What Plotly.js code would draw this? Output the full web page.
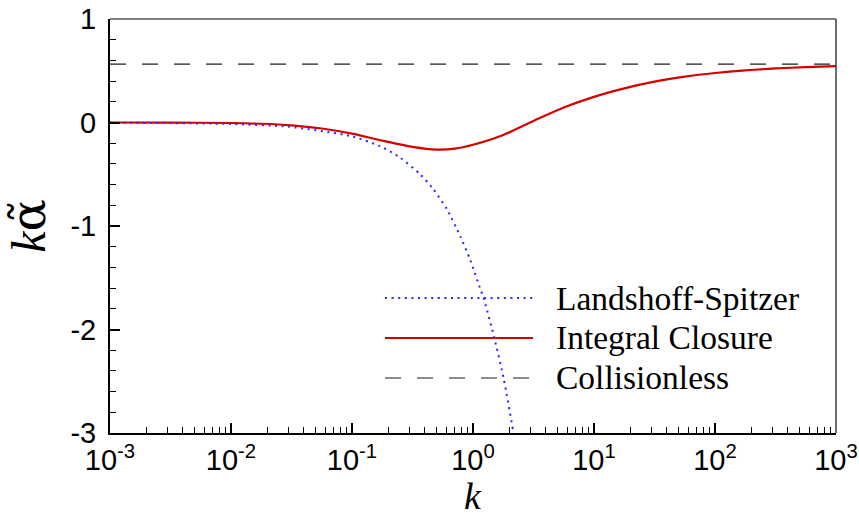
<!DOCTYPE html>
<html>
<head>
<meta charset="utf-8">
<script src="https://cdn.plot.ly/plotly-3.0.1.min.js"></script>
<style>
  html, body { margin: 0; padding: 0; background: #fff; }
  #chart { width: 859px; height: 519px; }
</style>
</head>
<body>
<div id="chart"></div>
<script>
// Wavenumber samples and k*alpha~ for each closure model
const kLS = [0.001, 0.01, 0.03, 0.097, 0.171, 0.251, 0.367, 0.472, 0.61, 0.786, 0.95, 1.15, 1.22, 1.5, 1.79, 2.14, 2.16];
const alphaLS = [-0.0014, -0.014, -0.041, -0.13, -0.229, -0.341, -0.502, -0.647, -0.84, -1.10, -1.33, -1.61, -1.69, -2.08, -2.47, -2.97, -3.0];

const kIC = [0.001, 0.00316, 0.01, 0.0178, 0.0316, 0.0562, 0.1, 0.178, 0.316, 0.5, 0.708, 1, 1.78, 3.16, 5.62, 10, 17.8, 31.6, 56.2, 100, 178, 316, 562, 1000];
const alphaIC = [0, -0.001, -0.005, -0.012, -0.027, -0.058, -0.108, -0.175, -0.235, -0.262, -0.253, -0.215, -0.12, 0.015, 0.145, 0.248, 0.33, 0.395, 0.443, 0.478, 0.504, 0.522, 0.535, 0.545];

const kCL = [0.001, 1000];
const alphaCL = [0.564, 0.564];

// Tick labels
const xTickVals = [0.001, 0.01, 0.1, 1, 10, 100, 1000];
const xTickText = ['10<sup>-3</sup>', '10<sup>-2</sup>', '10<sup>-1</sup>', '10<sup>0</sup>', '10<sup>1</sup>', '10<sup>2</sup>', '10<sup>3</sup>'];
const yTickVals = [-3, -2, -1, 0, 1];
const yTickText = ['-3', '-2', '-1', '0', '1'];

// Legend entries
const legendNames = ['Landshoff-Spitzer', 'Integral Closure', 'Collisionless'];

const blue = 'rgb(40,40,255)';
const red = 'rgb(212,0,0)';
const dark = 'rgb(30,30,30)';

const traces = [
  { x: kCL, y: alphaCL, mode: 'lines', name: legendNames[2],
    line: { color: dark, width: 1.2, dash: '16px,16px' }, showlegend: false },
  { x: kIC, y: alphaIC, mode: 'lines', name: legendNames[1], line: { color: red, width: 2.2, shape: 'spline', smoothing: 0.8 }, showlegend: false },
  { x: kLS, y: alphaLS, mode: 'lines', name: legendNames[0], line: { color: blue, width: 2, dash: '2px,4.6px', shape: 'spline', smoothing: 0.6 }, showlegend: false }
];

// Legend drawn as line samples + labels in paper coordinates
const legendY = [0.326, 0.2295, 0.1329];
const legendStyles = [
  { color: blue, width: 2, dash: '2px,4.6px' },
  { color: red, width: 2.2, dash: 'solid' },
  { color: dark, width: 1.2, dash: '16px,16px' }
];
const shapes = [
  // top and right frame lines
  { type: 'line', xref: 'paper', yref: 'paper', x0: 0, x1: 1, y0: 1, y1: 1, line: { color: 'black', width: 1.2 } },
  { type: 'line', xref: 'paper', yref: 'paper', x0: 1, x1: 1, y0: 0, y1: 1, line: { color: 'rgb(60,60,60)', width: 1.5 } }
];
const annotations = [];
legendNames.forEach((name, i) => {
  shapes.push({ type: 'line', xref: 'paper', yref: 'paper', x0: 0.3788, x1: 0.5826, y0: legendY[i], y1: legendY[i], line: legendStyles[i] });
  annotations.push({ xref: 'paper', yref: 'paper', x: 0.6115, y: legendY[i], xanchor: 'left', yanchor: 'middle',
    text: name, showarrow: false, font: { family: 'Liberation Serif, Times New Roman, serif', size: 33.5, color: 'black' } });
});

// x-axis title, set just below the tick labels
annotations.push({ xref: 'paper', yref: 'paper', x: 0.5, y: -0.099, xanchor: 'center', yanchor: 'top',
  text: '<i>k</i>', showarrow: false, borderpad: 0,
  font: { family: 'Liberation Serif, Times New Roman, serif', size: 38, color: 'black' } });

const layout = {
  width: 859, height: 519,
  margin: { l: 110, r: 23, t: 19, b: 86 },
  paper_bgcolor: 'white', plot_bgcolor: 'white',
  showlegend: false,
  xaxis: {
    type: 'log', range: [-3, 3],
    tickmode: 'array', tickvals: xTickVals, ticktext: xTickText,
    ticks: 'inside', ticklen: 10, tickwidth: 2, tickcolor: 'black',
    minor: { ticks: 'inside', ticklen: 6, tickwidth: 1, tickcolor: 'black', dtick: 'D1', showgrid: false },
    showline: true, linecolor: 'black', linewidth: 2,
    showgrid: false, zeroline: false,
    tickfont: { family: 'Liberation Sans, Arial, sans-serif', size: 29, color: 'black' }
  },
  yaxis: {
    range: [-3, 1],
    tickmode: 'array', tickvals: yTickVals, ticktext: yTickText,
    ticks: 'inside', ticklen: 10, tickwidth: 2, tickcolor: 'black',
    minor: { tickmode: 'linear', tick0: 0, dtick: 0.2, ticks: 'inside', ticklen: 6, tickwidth: 1, tickcolor: 'black', showgrid: false },
    showline: true, linecolor: 'black', linewidth: 2,
    showgrid: false, zeroline: false,
    ticklabelstandoff: 6,
    tickfont: { family: 'Liberation Sans, Arial, sans-serif', size: 29, color: 'black' },
    title: { text: '<i>k</i><span style="font-family:DejaVu Serif">\u03b1\u0303</span>', standoff: 10, font: { family: 'Liberation Serif, Times New Roman, serif', size: 48, color: 'black' } }
  },
  shapes: shapes,
  annotations: annotations
};

Plotly.newPlot('chart', traces, layout, { displayModeBar: false, staticPlot: true });
</script>
</body>
</html>
